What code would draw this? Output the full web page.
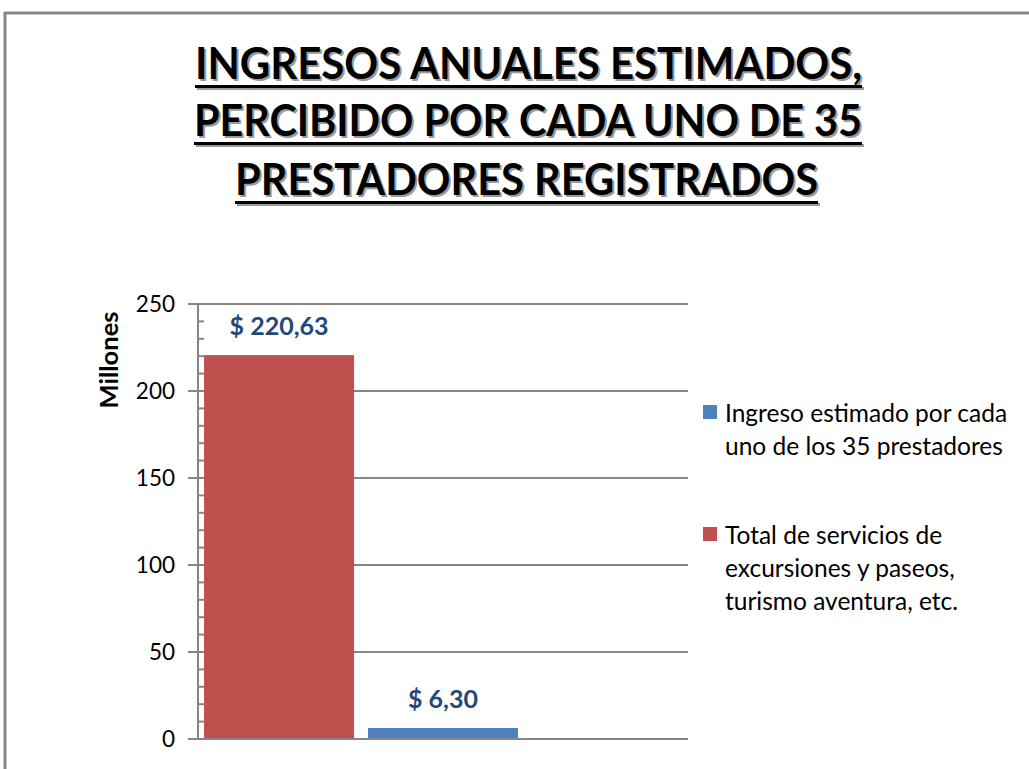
<!DOCTYPE html>
<html lang="es">
<head>
<meta charset="utf-8">
<title>Ingresos anuales estimados</title>
<script src="https://cdn.jsdelivr.net/npm/d3@7"></script>
<style>
  html, body { margin: 0; padding: 0; background: #fff; }
  #chart { width: 1029px; height: 769px; }
  text { font-family: Lato, 'Open Sans', sans-serif; }
</style>
</head>
<body>
<div id="chart"></div>
<script>
// Chart data
const titleLines = [
  'INGRESOS ANUALES ESTIMADOS,',
  'PERCIBIDO POR CADA UNO DE 35',
  'PRESTADORES REGISTRADOS'
];
const barKeys = ['total', 'ingreso', 'empty'];
const barValues = [220.63, 6.30];
const barColors = ['#C0504D', '#4F81BD'];
const legendKeys = ['ingreso', 'total'];
const legendLines = [
  ['Ingreso estimado por cada', 'uno de los 35 prestadores'],
  ['Total de servicios de', 'excursiones y paseos,', 'turismo aventura, etc.']
];
const yTicks = [0, 50, 100, 150, 200, 250];
const yLabel = 'Millones';

const colorByKey = { total: barColors[0], ingreso: barColors[1] };
const bars = barValues.map((v, i) => ({ key: barKeys[i], value: v }));

const W = 1029;
const H = 769;
const plot = { left: 198, right: 688, top: 304, bottom: 739 };
const GRID = '#868686';

const svg = d3
  .select('#chart')
  .append('svg')
  .attr('width', W)
  .attr('height', H);

svg.append('rect').attr('width', W).attr('height', H).attr('fill', '#fff');

// outer frame (only top and left edges are visible in the crop)
svg
  .append('path')
  .attr('d', `M5,${H} V13 H${W}`)
  .attr('fill', 'none')
  .attr('stroke', GRID)
  .attr('stroke-width', 3);

// title with underline and soft shadow
const titleBox = [
  { y: 79, x0: 195, x1: 862 },
  { y: 136, x0: 194, x1: 862 },
  { y: 195, x0: 235, x1: 818 }
];
const title = svg.append('g');
[{ dx: 2, dy: 2, fill: '#9a9a9a' }, { dx: 0, dy: 0, fill: '#000' }].forEach(layer => {
  titleLines.forEach((line, i) => {
    const b = titleBox[i];
    title
      .append('text')
      .attr('x', b.x0 + layer.dx)
      .attr('y', b.y + layer.dy)
      .attr('font-size', 44)
      .attr('font-weight', 700)
      .attr('fill', layer.fill)
      .attr('textLength', b.x1 - b.x0)
      .attr('lengthAdjust', 'spacingAndGlyphs')
      .text(line);
    title
      .append('rect')
      .attr('x', b.x0 + layer.dx)
      .attr('y', b.y + 6 + layer.dy)
      .attr('width', b.x1 - b.x0)
      .attr('height', 3)
      .attr('fill', layer.fill);
  });
});

const x = d3
  .scaleBand()
  .domain(barKeys)
  .range([plot.left, plot.right])
  .paddingInner(0.085)
  .paddingOuter(0.037);

const y = d3
  .scaleLinear()
  .domain([0, 250])
  .range([plot.bottom, plot.top]);

// gridlines + major ticks
svg
  .append('g')
  .selectAll('line')
  .data(yTicks)
  .join('line')
  .attr('x1', plot.left - 10)
  .attr('x2', plot.right)
  .attr('y1', d => y(d))
  .attr('y2', d => y(d))
  .attr('stroke', GRID)
  .attr('stroke-width', 2);

// minor ticks every 10
svg
  .append('g')
  .selectAll('line')
  .data(d3.range(0, 251, 10).filter(d => d % 50 !== 0))
  .join('line')
  .attr('x1', plot.left)
  .attr('x2', plot.left + 6)
  .attr('y1', d => y(d))
  .attr('y2', d => y(d))
  .attr('stroke', GRID)
  .attr('stroke-width', 2);

svg
  .append('line')
  .attr('x1', plot.left)
  .attr('x2', plot.left)
  .attr('y1', plot.top)
  .attr('y2', plot.bottom)
  .attr('stroke', GRID)
  .attr('stroke-width', 2);

svg
  .append('g')
  .selectAll('text')
  .data(yTicks)
  .join('text')
  .attr('x', 175)
  .attr('y', d => y(d))
  .attr('dy', '0.36em')
  .attr('text-anchor', 'end')
  .attr('font-size', 22.5)
  .attr('fill', '#000')
  .text(d => d);

svg
  .append('text')
  .attr('transform', 'translate(118,360) rotate(-90)')
  .attr('text-anchor', 'middle')
  .attr('font-size', 25.5)
  .attr('font-weight', 700)
  .attr('fill', '#000')
  .text(yLabel);

svg
  .append('g')
  .selectAll('rect')
  .data(bars)
  .join('rect')
  .attr('x', d => x(d.key))
  .attr('y', d => y(d.value))
  .attr('width', x.bandwidth())
  .attr('height', d => y(0) - y(d.value))
  .attr('fill', d => colorByKey[d.key]);

// redraw the baseline over the bars
svg
  .append('line')
  .attr('x1', plot.left - 10)
  .attr('x2', plot.right)
  .attr('y1', y(0))
  .attr('y2', y(0))
  .attr('stroke', GRID)
  .attr('stroke-width', 2);

svg
  .append('g')
  .selectAll('text')
  .data(bars)
  .join('text')
  .attr('x', d => x(d.key) + x.bandwidth() / 2)
  .attr('y', d => y(d.value) - 20)
  .attr('text-anchor', 'middle')
  .attr('font-size', 25)
  .attr('font-weight', 700)
  .attr('fill', '#1F497D')
  .text(d => '$ ' + d.value.toFixed(2).replace('.', ','));

// legend
const legendTop = [405, 527];
const legend = svg
  .append('g')
  .selectAll('g')
  .data(legendKeys)
  .join('g')
  .attr('transform', (d, i) => `translate(703,${legendTop[i]})`);

legend
  .append('rect')
  .attr('width', 14)
  .attr('height', 14)
  .attr('fill', d => colorByKey[d]);

legend
  .append('text')
  .attr('font-size', 24.5)
  .attr('fill', '#000')
  .selectAll('tspan')
  .data((d, i) => legendLines[i])
  .join('tspan')
  .attr('x', 22)
  .attr('y', (d, j) => 17 + j * 33)
  .text(d => d);
</script>
</body>
</html>
